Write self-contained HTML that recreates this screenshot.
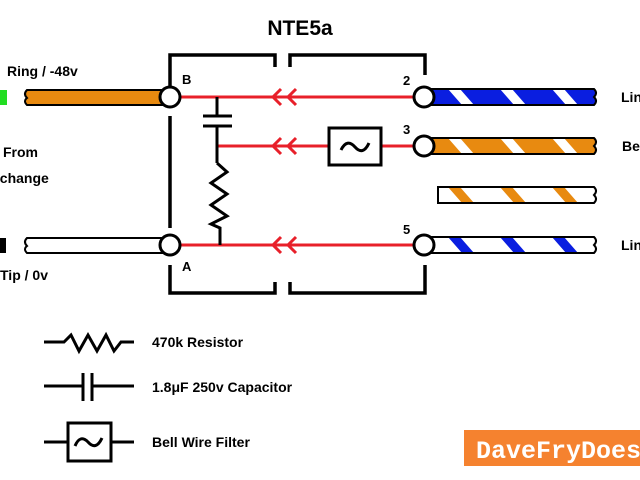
<!DOCTYPE html>
<html><head><meta charset="utf-8"><style>
html,body{margin:0;padding:0;background:#fff;width:640px;height:480px;overflow:hidden}
text{font-family:"Liberation Sans",sans-serif;font-weight:bold;fill:#000}
</style></head><body>
<svg width="640" height="480" viewBox="0 0 640 480" xmlns="http://www.w3.org/2000/svg">
<defs>
<pattern id="blueS" patternUnits="userSpaceOnUse" x="440" y="89" width="52" height="16">
<rect width="52" height="16" fill="#0a1ee0"/><polygon points="8,0 20,0 34,16 22,16" fill="#fff"/></pattern>
<pattern id="oraS" patternUnits="userSpaceOnUse" x="440" y="138" width="52" height="16">
<rect width="52" height="16" fill="#e88a10"/><polygon points="8,0 20,0 34,16 22,16" fill="#fff"/></pattern>
<pattern id="wOra" patternUnits="userSpaceOnUse" x="440" y="187" width="52" height="16">
<rect width="52" height="16" fill="#fff"/><polygon points="8,0 20,0 34,16 22,16" fill="#e88a10"/></pattern>
<pattern id="wBlue" patternUnits="userSpaceOnUse" x="440" y="237" width="52" height="16">
<rect width="52" height="16" fill="#fff"/><polygon points="8,0 20,0 34,16 22,16" fill="#0a1ee0"/></pattern>
</defs>
<text x="300" y="35" font-size="21" text-anchor="middle">NTE5a</text>
<g stroke="#000" stroke-width="3.5" fill="none">
<polyline points="170,86 170,55 275,55 275,67"/>
<polyline points="290,67 290,55 425,55 425,75"/>
<line x1="170" y1="116" x2="170" y2="228"/>
<polyline points="170,265 170,293 275,293 275,282"/>
<polyline points="290,282 290,293 425,293 425,265"/>
</g>
<rect x="0" y="90" width="7" height="15" fill="#22dd22"/>
<rect x="0" y="238" width="6" height="15" fill="#000"/>
<path d="M27,90 L165,90 L165,105 L27,105 Q23,101 27,98 Q23,94 27,90Z" fill="#e88a10" stroke="#000" stroke-width="2"/>
<path d="M27,238 L165,238 L165,253 L27,253 Q23,249 27,246 Q23,242 27,238Z" fill="#fff" stroke="#000" stroke-width="2"/>
<text x="7" y="76" font-size="14">Ring / -48v</text>
<text x="3" y="157" font-size="14">From</text>
<text x="-8" y="183" font-size="14">xchange</text>
<text x="0" y="280" font-size="14">Tip / 0v</text>
<text x="182" y="84" font-size="13">B</text>
<text x="182" y="271" font-size="13">A</text>
<g stroke="#e8202a" stroke-width="3" fill="none">
<line x1="180" y1="97" x2="414" y2="97"/>
<line x1="217" y1="146" x2="330" y2="146"/>
<line x1="381" y1="146" x2="414" y2="146"/>
<line x1="180" y1="245" x2="414" y2="245"/>
<polyline points="281,89 273,97 281,105"/><polyline points="296,89 288,97 296,105"/>
<polyline points="281,138 273,146 281,154"/><polyline points="296,138 288,146 296,154"/>
<polyline points="281,237 273,245 281,253"/><polyline points="296,237 288,245 296,253"/>
</g>
<g stroke="#000" stroke-width="3" fill="none">
<line x1="217" y1="97" x2="217" y2="116"/>
<line x1="203" y1="116" x2="232" y2="116"/>
<line x1="203" y1="126" x2="232" y2="126"/>
<line x1="217" y1="126" x2="217" y2="163"/>
<polyline points="217,163 227,172 211,183 227,194 211,205 227,216 211,224 220,228 220,245"/>
</g>
<rect x="329" y="128" width="52" height="37" fill="#fff" stroke="#000" stroke-width="3"/>
<path d="M341,150 Q347,138 355,147 Q363,156 369,143" stroke="#000" stroke-width="3" fill="none"/>
<g fill="#fff" stroke="#000" stroke-width="3">
<circle cx="170" cy="97" r="10"/>
<circle cx="170" cy="245" r="10"/>
</g>
<g stroke="#000" stroke-width="2">
<path d="M430,89 L594,89 Q598,93 594,97 Q598,101 594,105 L430,105Z" fill="url(#blueS)"/>
<path d="M430,138 L594,138 Q598,142 594,146 Q598,150 594,154 L430,154Z" fill="url(#oraS)"/>
<path d="M438,187 L594,187 Q598,191 594,195 Q598,199 594,203 L438,203Z" fill="url(#wOra)"/>
<path d="M430,237 L594,237 Q598,241 594,245 Q598,249 594,253 L430,253Z" fill="url(#wBlue)"/>
</g>
<g fill="#fff" stroke="#000" stroke-width="3">
<circle cx="424" cy="97" r="10"/>
<circle cx="424" cy="146" r="10"/>
<circle cx="424" cy="245" r="10"/>
</g>
<text x="403" y="85" font-size="13">2</text>
<text x="403" y="134" font-size="13">3</text>
<text x="403" y="234" font-size="13">5</text>
<text x="621" y="102" font-size="14">Line</text>
<text x="622" y="151" font-size="14">Bell</text>
<text x="621" y="250" font-size="14">Line</text>
<g stroke="#000" stroke-width="3" fill="none">
<polyline points="44,342 64,342 71,335 79,351 88,335 97,351 106,335 114,351 121,342 134,342"/>
<line x1="44" y1="386" x2="83" y2="386"/><line x1="83" y1="373" x2="83" y2="401"/>
<line x1="92" y1="373" x2="92" y2="401"/><line x1="92" y1="386" x2="134" y2="386"/>
<line x1="44" y1="442" x2="68" y2="442"/><line x1="111" y1="442" x2="134" y2="442"/>
<rect x="68" y="423" width="43" height="38"/>
<path d="M75,446 Q80,434 88,442 Q96,451 102,438"/>
</g>
<text x="152" y="347" font-size="14">470k Resistor</text>
<text x="152" y="392" font-size="14">1.8μF 250v Capacitor</text>
<text x="152" y="447" font-size="14">Bell Wire Filter</text>
<rect x="464" y="430" width="176" height="36" fill="#f5822f"/>
<text x="476" y="458" font-size="25" style="font-family:'Liberation Mono',monospace;font-weight:bold;fill:#fff">DaveFryDoes</text>
</svg>
</body></html>
